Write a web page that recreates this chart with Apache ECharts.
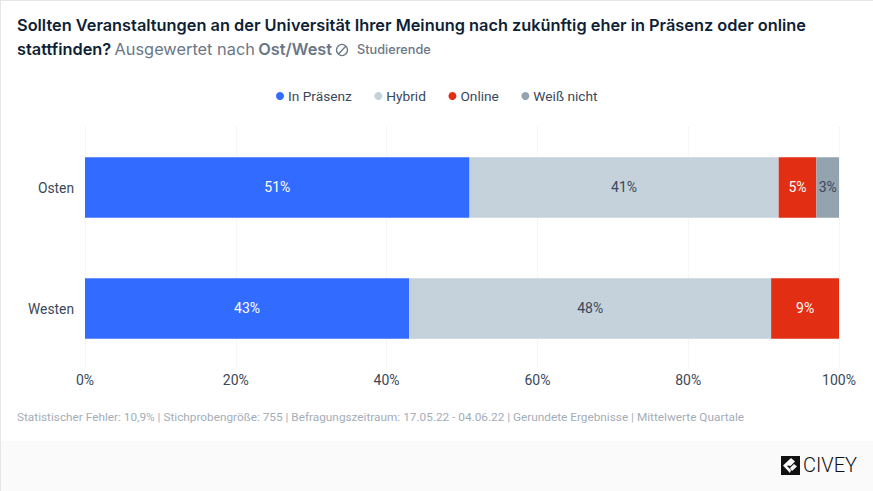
<!DOCTYPE html>
<html>
<head>
<meta charset="utf-8">
<script src="https://cdn.jsdelivr.net/npm/echarts@6/dist/echarts.min.js"></script>
<style>
  html, body { margin: 0; padding: 0; background: #fff; }
  #chart { width: 873px; height: 491px; }
</style>
</head>
<body>
<div id="chart"></div>
<script>
var categories = ['Osten', 'Westen'];
var inPraesenz = [51, 43];
var hybrid = [41, 48];
var online = [5, 9];
var weissNicht = [3, 0];
var seriesNames = ['In Präsenz', 'Hybrid', 'Online', 'Weiß nicht'];
var xTicks = [0, 20, 40, 60, 80, 100];

var ink = '#0f1f35';
var grey = '#6b7785';
var label = '#3a4859';
var titleFont = 'Inter, Roboto, sans-serif';
var uiFont = 'Roboto, sans-serif';

function barSeries(name, values, color, labelColor) {
  return {
    name: name,
    type: 'bar',
    stack: 'total',
    barWidth: '50%',
    data: values,
    itemStyle: { color: color },
    label: {
      show: true,
      position: 'inside',
      offset: [0, -1],
      color: labelColor,
      fontFamily: uiFont,
      fontSize: 14,
      formatter: function(p) { return p.value ? p.value + '%' : ''; }
    }
  };
}

var chart = echarts.init(document.getElementById('chart'), null, { renderer: 'svg' });
chart.setOption({
  animation: false,
  backgroundColor: '#fff',
  legend: {
    data: seriesNames.map(function(n) { return { name: n, icon: 'circle' }; }),
    top: 84,
    left: 271,
    itemWidth: 8,
    itemHeight: 8,
    itemGap: 22.5,
    textStyle: { color: label, fontFamily: uiFont, fontSize: 13.7, padding: [0, 0, 0, -1] }
  },
  grid: { left: 85, right: 34, top: 127, bottom: 122 },
  xAxis: {
    type: 'value',
    min: 0,
    max: 100,
    interval: xTicks[1] - xTicks[0],
    axisLine: { show: false },
    axisTick: { show: false },
    axisLabel: {
      color: label,
      fontFamily: uiFont,
      fontSize: 14,
      margin: 4,
      formatter: '{value}%'
    },
    splitLine: { lineStyle: { color: '#eceef0', type: 'dotted' } }
  },
  yAxis: {
    type: 'category',
    inverse: true,
    data: categories,
    axisLine: { show: false },
    axisTick: { show: false },
    axisLabel: { color: label, fontFamily: uiFont, fontSize: 13.8, margin: 11, padding: [0, 0, 2, 0] }
  },
  series: [
    barSeries(seriesNames[0], inPraesenz, '#326bff', '#fff'),
    barSeries(seriesNames[1], hybrid, '#c5d2dc', label),
    barSeries(seriesNames[2], online, '#e22e12', '#fff'),
    barSeries(seriesNames[3], weissNicht, '#94a3b0', label)
  ],
  graphic: [
    { type: 'rect', silent: true, z: -1, shape: { x: 0, y: 441, width: 873, height: 50 }, style: { fill: '#fafafa' } },
    { type: 'rect', silent: true, shape: { x: 0, y: 0, width: 873, height: 1 }, style: { fill: '#e6e6e6' } },
    { type: 'rect', silent: true, shape: { x: 0, y: 0, width: 1, height: 491 }, style: { fill: '#e6e6e6' } },
    { type: 'text', left: 17, top: 17, style: { text: 'Sollten Veranstaltungen an der Universität Ihrer Meinung nach zukünftig eher in Präsenz oder online', fill: ink, font: '600 16.35px ' + titleFont } },
    { type: 'text', left: 17, top: 41, style: {
      text: '{a|stattfinden?} {b|Ausgewertet nach} {c|Ost/West}',
      rich: {
        a: { fill: ink, font: '600 16.35px ' + titleFont },
        b: { fill: grey, font: '400 16.35px ' + titleFont },
        c: { fill: grey, font: '600 16.35px ' + titleFont }
      }
    } },
    { type: 'circle', shape: { cx: 342, cy: 50, r: 5.5 }, style: { fill: 'none', stroke: grey, lineWidth: 1.3 } },
    { type: 'line', shape: { x1: 338.5, y1: 54, x2: 346, y2: 46 }, style: { stroke: grey, lineWidth: 1.3 } },
    { type: 'text', left: 357, top: 43, style: { text: 'Studierende', fill: grey, font: '500 12.7px ' + titleFont } },
    { type: 'text', left: 17, top: 411, style: { text: 'Statistischer Fehler: 10,9% | Stichprobengröße: 755 | Befragungszeitraum: 17.05.22 - 04.06.22 | Gerundete Ergebnisse | Mittelwerte Quartale', fill: '#a4adb7', font: '400 11.8px ' + uiFont } },
    { type: 'rect', shape: { x: 781, y: 456, width: 19, height: 19 }, style: { fill: '#111' } },
    { type: 'polygon', shape: { points: [[783, 465.5], [791, 458], [795, 461.5], [790.5, 466], [788, 465.5], [787, 466], [791, 470], [790, 473]] }, style: { fill: '#fafafa' } },
    { type: 'polygon', shape: { points: [[790, 468], [794, 464], [797, 466.5], [792, 471]] }, style: { fill: '#fafafa' } },
    { type: 'text', left: 803, top: 455, style: { text: 'CIVEY', fill: '#111', font: '300 20px Roboto, sans-serif' } }
  ]
});
window.addEventListener('resize', function() { chart.resize(); });
</script>
</body>
</html>
